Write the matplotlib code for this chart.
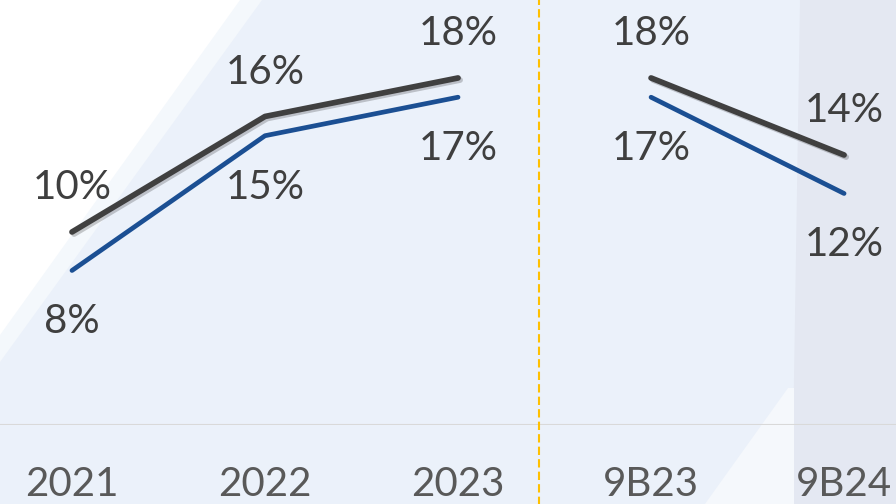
import matplotlib
matplotlib.use("Agg")
import matplotlib.pyplot as plt
import matplotlib.patheffects as pe
from matplotlib.patches import Polygon

categories = ['2021', '2022', '2023', '9B23', '9B24']
gray_vals = [10, 16, 18, 18, 14]
blue_vals = [8, 15, 17, 17, 12]
split_pos = 2.42  # dashed divider between annual and 9-month figures

W, H = 896, 504
plt.rcParams['font.family'] = ['Lato', 'DejaVu Sans']

fig = plt.figure(figsize=(W / 100, H / 100), dpi=100)
fig.patch.set_facecolor('#EBF1FA')

# decorative background shapes (pixel coords, y from top)
def px_poly(pts, color, alpha=1.0):
    xy = [(x / W, 1 - y / H) for x, y in pts]
    fig.patches.append(Polygon(xy, closed=True, transform=fig.transFigure,
                               facecolor=color, edgecolor='none', alpha=alpha, zorder=-5))

px_poly([(0, 0), (262, 0), (0, 362)], '#F4F8FC')
px_poly([(0, 0), (240, 0), (0, 335)], '#FFFFFF')
px_poly([(800, 0), (896, 0), (896, 504), (792, 504)], '#E4E8F2')
px_poly([(705, 504), (788, 388), (794, 388), (794, 504)], '#F5F8FC')

ax = fig.add_axes([0, 79.5 / H, 1, 1 - 79.5 / H])
ax.set_zorder(1)
ax.set_facecolor('none')
ax.set_xlim(-0.373, 4.269)
ax.set_ylim(0, 22.05)

x = list(range(len(categories)))
gray_fx = [pe.SimpleLineShadow(offset=(1.5, -1.5), shadow_color='k', alpha=0.2), pe.Normal()]

for seg in (slice(0, 3), slice(3, 5)):
    ax.plot(x[seg], blue_vals[seg], color='#1B4F93', lw=3.4, solid_capstyle='round', zorder=3)
    ax.plot(x[seg], gray_vals[seg], color='#404040', lw=4.1, solid_capstyle='round',
            zorder=4, path_effects=gray_fx)

for i in x:
    ax.annotate(f"{gray_vals[i]}%", (i, gray_vals[i]), xytext=(0, 32), textcoords='offset points',
                ha='center', va='center', fontsize=29, color='#3F3F3F')
    ax.annotate(f"{blue_vals[i]}%", (i, blue_vals[i]), xytext=(0, -37), textcoords='offset points',
                ha='center', va='center', fontsize=29, color='#3F3F3F')

ax.axhline(0, color='#D9D9D9', lw=1.5, zorder=1)
ax.axvline(split_pos, ymin=-0.2, ymax=1, color='#FFC000', lw=1.5,
           linestyle=(0, (4, 2)), clip_on=False, zorder=2)

ax.set_xticks(x)
ax.set_xticklabels(categories, fontsize=29, color='#595959')
ax.tick_params(axis='x', length=0, pad=30)
ax.set_yticks([])
for s in ax.spines.values():
    s.set_visible(False)

fig.savefig('out.png', dpi=100, facecolor=fig.get_facecolor())
